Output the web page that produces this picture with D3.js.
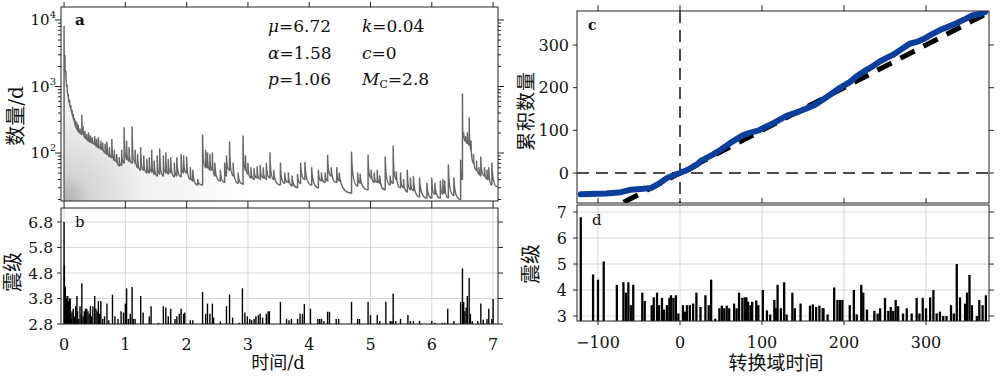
<!DOCTYPE html>
<html><head><meta charset="utf-8">
<script src="https://cdn.jsdelivr.net/npm/d3@7"></script>
<style>
body{margin:0;background:#fff}
text{font-family:"DejaVu Serif","Noto Sans CJK SC",serif;fill:#111}
</style>
</head><body>
<svg id="chart" width="1000" height="380"></svg>
<script>
// ---------- DATA ----------
// panel a: ETAS rate curve, spikes (time, value just before jump, value at peak)
const spikeT    = [0.000,0.015,0.03,0.05,0.07,0.09,0.11,0.13,0.15,0.17,0.19,0.21,0.23,0.26,0.29,0.31,0.34,0.37,0.40,0.43,0.46,0.50,0.53,0.56,0.60,0.63,0.67,0.70,0.74,0.78,0.82,0.86,0.90,0.94,0.98,1.02,1.06,1.11,1.16,1.20,1.25,1.30,1.35,1.39,1.43,1.47,1.52,1.56,1.62,1.66,1.70,1.74,1.80,1.84,1.91,1.95,2.00,2.06,2.10,2.18,2.26,2.31,2.34,2.38,2.42,2.46,2.55,2.62,2.65,2.70,2.76,2.84,2.92,2.96,3.00,3.05,3.10,3.15,3.20,3.25,3.30,3.36,3.42,3.53,3.60,3.66,3.72,3.81,3.86,3.93,4.04,4.15,4.20,4.26,4.30,4.36,4.45,4.49,4.69,4.79,4.83,4.96,5.01,5.06,5.11,5.15,5.24,5.32,5.37,5.42,5.49,5.54,5.60,5.65,5.70,5.80,5.92,6.00,6.05,6.14,6.18,6.21,6.27,6.36,6.47,6.50,6.52,6.55,6.58,6.61,6.64,6.68,6.73,6.77,6.80,6.86,6.90,6.93,6.98];
const spikePre  = [19,2600,1500,950,700,560,470,400,340,300,250,230,210,200,190,220,170,160,150,145,140,135,125,120,115,110,100,95,88,85,78,72,64,65,70,80,75,70,70,60,55,55,50,50,52,48,45,48,45,50,48,50,44,45,44,50,50,40,38,33,33,60,60,55,55,45,38,36,45,55,45,35,34,55,48,42,40,42,40,42,40,42,40,33,35,36,32,30,35,40,33,30,38,36,38,45,36,38,25,32,35,28,42,36,36,35,28,33,35,40,30,30,26,28,27,22,21,21,24,21,24,25,21,23,20,40,180,150,140,130,110,70,55,48,45,45,40,40,33];
const spikePeak = [8000,2900,1700,1050,760,620,520,440,380,330,300,280,260,230,370,250,210,190,200,180,170,175,160,170,150,140,135,145,120,160,110,95,85,110,240,150,120,246,110,95,120,90,80,85,110,75,90,115,90,100,80,85,70,85,95,90,87,60,55,40,186,110,100,95,100,70,55,70,90,146,70,50,180,90,70,60,58,62,65,60,70,100,55,70,50,50,45,48,70,72,60,55,50,50,93,60,60,50,103,50,48,93,55,50,55,45,87,45,128,52,50,40,55,42,44,42,35,42,35,38,40,38,66,42,78,770,200,175,200,336,150,95,75,60,87,60,55,60,70];
const rateEndT = 7.07, rateEndV = 31;

// panel b: events (time in days, magnitude)
const eventT = [0.00,0.005,0.01,0.015,0.02,0.03,0.035,0.04,0.05,0.06,0.065,0.07,0.08,0.09,0.10,0.11,0.12,0.13,0.15,0.17,0.19,0.21,0.22,0.24,0.26,0.28,0.29,0.31,0.33,0.35,0.37,0.39,0.41,0.43,0.45,0.47,0.50,0.52,0.54,0.56,0.58,0.60,0.63,0.66,0.70,0.73,0.79,0.83,0.88,0.93,0.97,1.00,1.02,1.05,1.08,1.11,1.13,1.16,1.25,1.29,1.39,1.42,1.54,1.62,1.66,1.70,1.74,1.81,1.84,1.88,1.91,1.95,1.97,2.06,2.10,2.26,2.31,2.34,2.38,2.42,2.44,2.55,2.65,2.70,2.75,2.86,2.91,2.95,2.99,3.03,3.06,3.10,3.13,3.17,3.20,3.24,3.30,3.33,3.35,3.53,3.63,3.67,3.71,3.81,3.85,3.89,3.92,4.02,4.14,4.17,4.20,4.24,4.30,4.33,4.44,4.48,4.69,4.79,4.82,4.96,5.00,5.11,5.15,5.25,5.32,5.35,5.37,5.41,5.49,5.61,5.65,5.70,5.80,6.00,6.05,6.17,6.21,6.26,6.36,6.47,6.50,6.52,6.54,6.56,6.58,6.61,6.63,6.66,6.75,6.80,6.84,6.90,6.93,6.98,7.00];
const eventM = [6.8,5.1,4.3,3.9,4.25,3.9,3.6,3.8,3.5,3.9,3.3,3.7,3.4,3.8,3.8,3.2,3.0,3.3,3.4,3.1,3.5,3.9,3.3,3.0,3.5,3.2,4.4,3.1,3.3,3.4,3.4,3.3,3.2,3.5,3.1,3.5,3.9,3.4,3.3,3.7,3.2,3.7,3.0,3.1,3.6,2.95,3.95,3.1,3.0,3.3,3.25,3.6,4.2,3.0,3.2,4.25,3.0,3.0,3.9,3.25,3.1,3.5,2.85,3.5,3.45,3.1,3.4,3.0,3.1,3.2,3.4,3.2,3.25,2.95,2.95,4.05,3.2,3.6,3.2,3.6,3.05,2.9,3.5,3.95,3.05,2.85,4.2,3.25,3.1,3.0,2.95,3.0,3.1,3.15,3.2,3.05,3.2,3.3,3.3,3.67,3.0,2.95,3.0,3.0,3.2,3.2,3.58,3.4,3.0,3.0,3.0,2.92,3.28,3.28,3.0,3.0,3.67,3.0,3.0,3.67,3.15,3.15,2.92,3.67,2.92,2.92,4.0,2.92,3.0,3.15,2.92,2.92,2.92,2.92,2.85,2.85,2.85,3.4,2.92,3.67,4.98,3.67,3.3,3.45,3.9,4.6,3.2,2.92,2.92,3.6,2.97,3.0,3.4,3.0,3.78];

// panel c: cumulative number vs transformed time
const cumTau = [-121,-90,-72,-68,-60,-45,-35,-25,-16,-8,0,10,20,26,40,50,61,77,85,96,101,115,130,145,155,165,179,193,207,215,226,235,244,252,260,270,280,290,299,308,317,327,337,347,356,364,372];
const cumN   = [-50,-48,-45,-43,-39,-37,-35,-24,-12,-5,0,8,19,29,43,55,70,89,94,100,105,118,134,144,152,160,178,197,213,226,240,250,262,270,277,290,303,308,316,326,335,343,351,360,369,372,377];
const fitTau = [-125,376];
const fitN   = [-125,376];

// panel d: magnitudes vs transformed time
const tauT = [-121,-106,-100,-93,-77,-69,-66,-63,-60,-57,-46,-43,-34.5,-32,-28,-25.6,-22,-19.5,-16,-13,-11,-8,-5,-2,3.6,6,8.5,12,16,20,25,31,35,38,43,48,51,54,57,60,66,69,72,76,79,81,83,86,88,93,95.5,101,106,110,115,117,119,123,127,130,137,140,147,158.5,162,166,170,174,175,180,188,192,195,198,207,212,215.5,221,223.5,228,237,241,244,250,254,257,260,263,266,272,276.5,282.5,288.6,292,296,300,305,309,313,317,321,325,330.5,334,337.5,341.5,347.6,350,353,356,362,365,369,373];
const tauM = [6.8,4.6,4.4,5.1,4.2,4.3,3.9,4.3,3.42,4.2,3.9,3.58,3.42,3.72,3.9,3.42,3.7,3.25,3.42,3.7,3.8,3.7,3.8,3.1,3.42,3.17,3.42,3.42,3.48,3.9,3.35,3.8,3.42,4.4,2.9,3.3,3.4,3.3,3.4,3.3,3.48,3.3,3.9,3.7,3.72,3.72,3.55,3.42,3.55,3.6,3.42,4.0,3.22,3.06,3.62,3.3,4.2,3.3,4.3,3.06,3.9,3.3,3.48,3.4,3.45,3.35,3.4,3.3,3.3,3.06,4.1,3.62,3.62,3.62,3.42,4.0,3.07,4.2,3.9,3.25,3.2,3.1,3.3,3.7,3.2,3.35,3.2,3.62,3.38,3.1,3.3,3.1,3.7,3.1,3.7,3.3,3.72,4.0,3.1,3.17,3.0,3.0,3.42,3.1,5.0,3.72,3.48,3.9,4.58,3.42,3.0,3.62,3.42,3.8];

// ticks and labels
const xTicksAB = [0,1,2,3,4,5,6,7];
const yTicksA  = [100,1000,10000];
const yTicksB  = [2.8,3.8,4.8,5.8,6.8];
const xTicksCD = [-100,0,100,200,300];
const yTicksC  = [0,100,200,300];
const yTicksD  = [3,4,5,6,7];
const paramRows = [
  [["μ",true],["=6.72",false]],
  [["α",true],["=1.58",false]],
  [["p",true],["=1.06",false]]
];
const paramRows2 = [
  [["k",true],["=0.04",false]],
  [["c",true],["=0",false]],
  [["M",true],["C",false,"sub"],["=2.8",false]]
];

// ---------- DRAW ----------
const svg = d3.select("#chart");
const defs = svg.append("defs");

const A = {l:61, r:498, t:7, b:201};
const B = {l:61, r:498, t:208, b:324};
const C = {l:577, r:989, t:11, b:203};
const D = {l:577, r:989, t:205, b:321};

const xA = d3.scaleLinear().domain([-0.05, 7.08]).range([A.l, A.r]);
const yA = d3.scaleLog().domain([19, 15690]).range([A.b, A.t]);
const yB = d3.scaleLinear().domain([2.8, 7.35]).range([B.b, B.t]);
const xC = d3.scaleLinear().domain([-125.6, 376.8]).range([C.l, C.r]);
const yC = d3.scaleLinear().domain([-70.3, 379.7]).range([C.b, C.t]);
const yD = d3.scaleLinear().domain([2.81, 7.27]).range([D.b, D.t]);

const gridCol = "#cfd3d7", axCol = "#222";

// gradient
const rg = defs.append("radialGradient").attr("id","fillg").attr("gradientUnits","userSpaceOnUse")
  .attr("cx",A.l).attr("cy",A.b).attr("r",190);
rg.append("stop").attr("offset","0").attr("stop-color","#a8a8a8");
rg.append("stop").attr("offset","0.15").attr("stop-color","#d4d4d4");
rg.append("stop").attr("offset","0.45").attr("stop-color","#f1f1f1");
rg.append("stop").attr("offset","1").attr("stop-color","#ffffff");

["A","B","C","D"].forEach(k=>{
  const P = {A,B,C,D}[k];
  defs.append("clipPath").attr("id","clip"+k).append("rect")
    .attr("x",P.l).attr("y",P.t).attr("width",P.r-P.l).attr("height",P.b-P.t);
});

// ---- panel a ----
function ratePath(withFill){
  const p = d3.path();
  const x0 = xA(spikeT[0]);
  p.moveTo(x0, A.b);
  p.lineTo(x0, yA(spikePeak[0]));
  const n = spikeT.length;
  for (let i=1;i<=n;i++){
    const xs = xA(spikeT[i-1]), ys = yA(spikePeak[i-1]);
    const xe = i<n ? xA(spikeT[i]) : xA(rateEndT);
    const ye = i<n ? yA(spikePre[i]) : yA(rateEndV);
    p.quadraticCurveTo(xs + 0.12*(xe-xs), ye, xe, ye);
    if (i<n) p.lineTo(xe, yA(spikePeak[i]));
  }
  if (withFill){ p.lineTo(xA(rateEndT), A.b); p.closePath(); }
  return p.toString();
}
const gA = svg.append("g").attr("clip-path","url(#clipA)");
gA.append("path").attr("d", ratePath(true)).attr("fill","url(#fillg)");
gA.append("path").attr("d", ratePath(false)).attr("fill","none")
  .attr("stroke","#676767").attr("stroke-width",1.5).attr("stroke-linejoin","round");

svg.append("rect").attr("x",A.l).attr("y",A.t).attr("width",A.r-A.l).attr("height",A.b-A.t)
  .attr("fill","none").attr("stroke",axCol).attr("stroke-width",1);

// log ticks left/right
const allLog = yA.ticks().filter(v=>v>=19 && v<=15690);
allLog.forEach(v=>{
  const major = yTicksA.includes(v);
  const len = major?6:3;
  const y = yA(v);
  svg.append("line").attr("x1",A.l-len).attr("x2",A.l).attr("y1",y).attr("y2",y).attr("stroke",axCol);
  svg.append("line").attr("x1",A.r).attr("x2",A.r+len).attr("y1",y).attr("y2",y).attr("stroke",axCol);
});
yTicksA.forEach(v=>{
  const t = svg.append("text").attr("x",56).attr("y",yA(v)+5).attr("text-anchor","end").attr("font-size",15);
  t.append("tspan").text("10");
  t.append("tspan").attr("dy",-7).attr("font-size",10).text(String(Math.round(Math.log10(v))));
});
xTicksAB.forEach(v=>{
  const x = xA(v);
  svg.append("line").attr("x1",x).attr("x2",x).attr("y1",A.t-5).attr("y2",A.t).attr("stroke",axCol);
  svg.append("line").attr("x1",x).attr("x2",x).attr("y1",A.b).attr("y2",B.t).attr("stroke",axCol);
});
svg.append("text").attr("x",75).attr("y",25).attr("font-size",15).attr("font-weight","bold").text("a");

function paramText(rows, x0){
  rows.forEach((row,i)=>{
    const t = svg.append("text").attr("x",x0).attr("y",32+i*26.5).attr("font-size",17);
    row.forEach((seg,j)=>{
      const s = t.append("tspan").text(seg[0]);
      if (seg[1]) s.attr("font-style","italic");
      if (seg[2]==="sub") s.attr("font-size",11).attr("dy",3);
      else if (j>0 && row[j-1][2]==="sub") s.attr("dy",-3);
    });
  });
}
paramText(paramRows, 268);
paramText(paramRows2, 362);

svg.append("text").attr("transform","translate(16,116) rotate(-90)").attr("text-anchor","middle")
  .attr("dominant-baseline","central").attr("font-size",20).text("数量/d");

// ---- panel b ----
const gBg = svg.append("g");
xTicksAB.forEach(v=>gBg.append("line").attr("x1",xA(v)).attr("x2",xA(v)).attr("y1",B.t).attr("y2",B.b).attr("stroke",gridCol).attr("stroke-width",0.9));
yTicksB.forEach(v=>gBg.append("line").attr("x1",B.l).attr("x2",B.r).attr("y1",yB(v)).attr("y2",yB(v)).attr("stroke",gridCol).attr("stroke-width",0.9));
svg.append("g").attr("clip-path","url(#clipB)").selectAll("line").data(eventT).join("line")
  .attr("x1",d=>xA(d)).attr("x2",d=>xA(d)).attr("y1",B.b).attr("y2",(d,i)=>yB(eventM[i]))
  .attr("stroke","#000").attr("stroke-width",1.4);
svg.append("rect").attr("x",B.l).attr("y",B.t).attr("width",B.r-B.l).attr("height",B.b-B.t)
  .attr("fill","none").attr("stroke",axCol).attr("stroke-width",1);
yTicksB.forEach(v=>{
  svg.append("line").attr("x1",B.r).attr("x2",B.r+5).attr("y1",yB(v)).attr("y2",yB(v)).attr("stroke",axCol);
  svg.append("line").attr("x1",B.l-4).attr("x2",B.l).attr("y1",yB(v)).attr("y2",yB(v)).attr("stroke",axCol);
  svg.append("text").attr("x",53).attr("y",yB(v)+5.5).attr("text-anchor","end").attr("font-size",15.5).text(d3.format(".1f")(v));
});
xTicksAB.forEach(v=>{
  svg.append("text").attr("x",xA(v)).attr("y",350).attr("text-anchor","middle").attr("font-size",16).text(v);
});
svg.append("text").attr("x",75).attr("y",227).attr("font-size",15).text("b");
svg.append("text").attr("x",278).attr("y",369).attr("text-anchor","middle").attr("font-size",18).text("时间/d");
svg.append("text").attr("transform","translate(13,272) rotate(-90)").attr("text-anchor","middle")
  .attr("dominant-baseline","central").attr("font-size",20).text("震级");

// ---- panel c ----
const gC = svg.append("g").attr("clip-path","url(#clipC)");
gC.append("line").attr("x1",C.l).attr("x2",C.r).attr("y1",yC(0)).attr("y2",yC(0))
  .attr("stroke","#111").attr("stroke-width",1.5).attr("stroke-dasharray","12,7");
gC.append("line").attr("x1",xC(0)).attr("x2",xC(0)).attr("y1",C.t).attr("y2",C.b)
  .attr("stroke","#111").attr("stroke-width",1.5).attr("stroke-dasharray","12,7");
const lineC = d3.line().x(d=>xC(d[0])).y(d=>yC(d[1]));
gC.append("path").attr("d", lineC(fitTau.map((v,i)=>[v,fitN[i]])))
  .attr("fill","none").attr("stroke","#000").attr("stroke-width",5).attr("stroke-dasharray","16,10");
gC.append("path").attr("d", lineC(cumTau.map((v,i)=>[v,cumN[i]])))
  .attr("fill","none").attr("stroke","#0c3f9c").attr("stroke-width",6)
  .attr("stroke-linejoin","round").attr("stroke-linecap","round");
svg.append("rect").attr("x",C.l).attr("y",C.t).attr("width",C.r-C.l).attr("height",C.b-C.t)
  .attr("fill","none").attr("stroke",axCol).attr("stroke-width",1);
xTicksCD.forEach(v=>{
  const x = xC(v);
  svg.append("line").attr("x1",x).attr("x2",x).attr("y1",C.t-6).attr("y2",C.t).attr("stroke",axCol);
  svg.append("line").attr("x1",x).attr("x2",x).attr("y1",C.b-5).attr("y2",C.b).attr("stroke",axCol);
});
yTicksC.forEach(v=>{
  svg.append("line").attr("x1",C.r).attr("x2",C.r+5).attr("y1",yC(v)).attr("y2",yC(v)).attr("stroke",axCol);
  svg.append("line").attr("x1",C.l-4).attr("x2",C.l).attr("y1",yC(v)).attr("y2",yC(v)).attr("stroke",axCol);
  svg.append("text").attr("x",569).attr("y",yC(v)+5.5).attr("text-anchor","end").attr("font-size",16).text(v);
});
svg.append("text").attr("x",588).attr("y",30).attr("font-size",14).attr("font-weight","bold").text("c");
svg.append("text").attr("transform","translate(526,111) rotate(-90)").attr("text-anchor","middle")
  .attr("dominant-baseline","central").attr("font-size",19).attr("letter-spacing",1).text("累积数量");

// ---- panel d ----
const gDg = svg.append("g");
xTicksCD.forEach(v=>gDg.append("line").attr("x1",xC(v)).attr("x2",xC(v)).attr("y1",D.t).attr("y2",D.b).attr("stroke",gridCol).attr("stroke-width",0.9));
yTicksD.forEach(v=>gDg.append("line").attr("x1",D.l).attr("x2",D.r).attr("y1",yD(v)).attr("y2",yD(v)).attr("stroke",gridCol).attr("stroke-width",0.9));
svg.append("g").attr("clip-path","url(#clipD)").selectAll("line").data(tauT).join("line")
  .attr("x1",d=>xC(d)).attr("x2",d=>xC(d)).attr("y1",D.b).attr("y2",(d,i)=>yD(tauM[i]))
  .attr("stroke","#000").attr("stroke-width",2.3);
svg.append("rect").attr("x",D.l).attr("y",D.t).attr("width",D.r-D.l).attr("height",D.b-D.t)
  .attr("fill","none").attr("stroke",axCol).attr("stroke-width",1);
yTicksD.forEach(v=>{
  svg.append("line").attr("x1",D.r).attr("x2",D.r+5).attr("y1",yD(v)).attr("y2",yD(v)).attr("stroke",axCol);
  svg.append("line").attr("x1",D.l-4).attr("x2",D.l).attr("y1",yD(v)).attr("y2",yD(v)).attr("stroke",axCol);
  svg.append("text").attr("x",567).attr("y",yD(v)+5.5).attr("text-anchor","end").attr("font-size",16).text(v);
});
xTicksCD.forEach(v=>{
  svg.append("line").attr("x1",xC(v)).attr("x2",xC(v)).attr("y1",D.b).attr("y2",D.b+4).attr("stroke",axCol);
  svg.append("text").attr("x",xC(v)).attr("y",348).attr("text-anchor","middle").attr("font-size",16).text(String(v).replace("-","−"));
});
svg.append("text").attr("x",592).attr("y",225).attr("font-size",15).text("d");
svg.append("text").attr("x",776).attr("y",370).attr("text-anchor","middle").attr("font-size",19).text("转换域时间");
svg.append("text").attr("transform","translate(531,264) rotate(-90)").attr("text-anchor","middle")
  .attr("dominant-baseline","central").attr("font-size",20).text("震级");
</script>
</body></html>
